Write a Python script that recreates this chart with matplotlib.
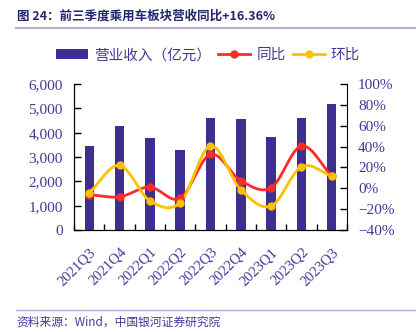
import numpy as np
import matplotlib
matplotlib.use('Agg')
import matplotlib.pyplot as plt
from matplotlib.ticker import FuncFormatter, MultipleLocator

quarters = ['2021Q3', '2021Q4', '2022Q1', '2022Q2', '2022Q3', '2022Q4', '2023Q1', '2023Q2', '2023Q3']
revenue = [3470, 4260, 3770, 3270, 4620, 4560, 3820, 4590, 5170]
yoy = [-6.1, -8.1, 1.2, -9.6, 32.6, 7.3, 0.6, 40.6, 11.8]
qoq = [-4.2, 22.0, -11.9, -13.8, 40.6, -1.3, -17.0, 20.7, 11.8]

plt.rcParams['font.family'] = ['Liberation Serif', 'Noto Sans CJK SC']

tick_color = '#3f3a9a'
bar_color = '#3d2f8f'
red = '#ff2a2a'
gold = '#ffc000'
cjk = ['Noto Sans CJK SC', 'DejaVu Sans']


def smooth(x, y, n=20):
    # catmull-rom curve through the points, like excel's smoothed line
    x = np.asarray(x, float)
    y = np.asarray(y, float)
    px = np.concatenate([[2 * x[0] - x[1]], x, [2 * x[-1] - x[-2]]])
    py = np.concatenate([[2 * y[0] - y[1]], y, [2 * y[-1] - y[-2]]])
    xs, ys = [], []
    t = np.linspace(0, 1, n)
    for i in range(1, len(px) - 2):
        for p, out in ((px, xs), (py, ys)):
            p0, p1, p2, p3 = p[i - 1], p[i], p[i + 1], p[i + 2]
            out.extend(0.5 * (2 * p1 + (-p0 + p2) * t
                              + (2 * p0 - 5 * p1 + 4 * p2 - p3) * t ** 2
                              + (-p0 + 3 * p1 - 3 * p2 + p3) * t ** 3))
    return xs, ys


fig = plt.figure(figsize=(4.16, 3.32), dpi=100)
ax = fig.add_axes([0.178, 0.307, 0.656, 0.44])
x = np.arange(len(quarters))

bars = ax.bar(x, revenue, width=0.31, color=bar_color, zorder=2)
ax.set_ylim(0, 6000)
ax.set_xlim(-0.5, len(quarters) - 0.5)
ax.yaxis.set_major_locator(MultipleLocator(1000))
ax.yaxis.set_major_formatter(FuncFormatter(lambda v, p: '{:,.0f}'.format(v)))
ax.set_xticks(x)
ax.set_xticklabels(quarters, rotation=45, ha='right', va='top', rotation_mode='anchor')
ax.set_xticks(np.arange(-0.5, len(quarters), 1), minor=True)
ax.tick_params(axis='x', which='major', length=0, pad=11, labelsize=10.5, labelcolor=tick_color)
ax.tick_params(axis='x', which='minor', direction='in', length=4, width=1)
ax.tick_params(axis='y', direction='in', length=5, width=1, labelsize=11, labelcolor=tick_color, pad=8)
ax.spines['top'].set_visible(False)
ax.spines['right'].set_visible(False)

ax2 = ax.twinx()
ax2.set_ylim(-40, 100)
ax2.yaxis.set_major_locator(MultipleLocator(20))
ax2.yaxis.set_major_formatter(FuncFormatter(lambda v, p: '{:.0f}%'.format(v).replace('-', '\u2212')))
ax2.tick_params(axis='y', direction='in', length=5, width=1, labelsize=11, labelcolor=tick_color, pad=8)
ax2.spines['top'].set_visible(False)

sx, sy = smooth(x, yoy)
ax2.plot(sx, sy, color=red, lw=2, zorder=3)
ax2.plot(x, yoy, 'o', color=red, ms=5, zorder=4)
sx, sy = smooth(x, qoq)
ax2.plot(sx, sy, color=gold, lw=2, zorder=3)
ax2.plot(x, qoq, 'o', color=gold, ms=5, zorder=4)

h_yoy, = ax2.plot([], [], '-o', color=red, lw=2, ms=5)
h_qoq, = ax2.plot([], [], '-o', color=gold, lw=2, ms=5)
fig.legend([bars, h_yoy, h_qoq], ['营业收入（亿元）', '同比', '环比'],
           loc='center', bbox_to_anchor=(0.5, 0.834), ncol=3, frameon=False,
           prop={'family': cjk, 'size': 10.5}, labelcolor=tick_color,
           handlelength=2.2, handletextpad=0.4, columnspacing=0.5, borderaxespad=0)

fig.text(0.04, 0.952, '图 24：前三季度乘用车板块营收同比+16.36%', fontsize=9, fontweight='bold',
         color='#23276f', family=cjk, va='center')
fig.add_artist(plt.Line2D([0.038, 1.0], [0.915, 0.915], color='#b3acd8', lw=1.5))
fig.add_artist(plt.Line2D([0.038, 1.0], [0.065, 0.065], color='#b3acd8', lw=1))
fig.text(0.04, 0.03, '资料来源：Wind，中国银河证券研究院', fontsize=8.5, style='italic',
         color='#3f3a9a', family=cjk, va='center')

fig.savefig('out.png', dpi=100)
